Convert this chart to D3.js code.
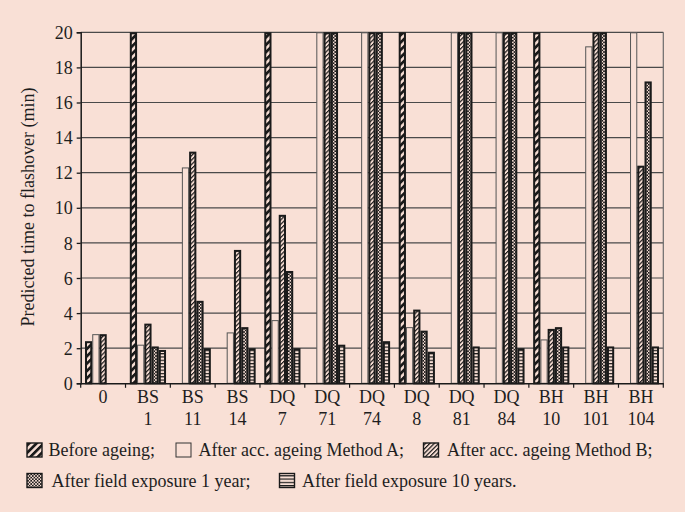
<!DOCTYPE html>
<html>
<head>
<meta charset="utf-8">
<script src="https://cdn.jsdelivr.net/npm/d3@7"></script>
<style>
  html, body { margin: 0; padding: 0; background: #f9e0d6; }
  svg { display: block; }
  text { font-family: "Liberation Serif", "Times New Roman", serif; fill: #1e1e1e; }
</style>
</head>
<body>
<svg id="chart" width="685" height="512"></svg>
<script>
// ---- data ----
const categories = [["0"], ["BS","1"], ["BS","11"], ["BS","14"], ["DQ","7"], ["DQ","71"], ["DQ","74"], ["DQ","8"], ["DQ","81"], ["DQ","84"], ["BH","10"], ["BH","101"], ["BH","104"]];
const seriesNames = ["Before ageing;", "After acc. ageing Method A;", "After acc. ageing Method B;", "After field exposure 1 year;", "After field exposure 10 years."];
const beforeAgeing = [2.4, 20, null, null, 20, null, null, 20, null, null, 20, null, null];
const methodA      = [2.8, 2.2, 12.3, 2.9, 3.6, 20, 20, 3.2, 20, 20, 2.5, 19.2, 20];
const methodB      = [2.8, 3.4, 13.2, 7.6, 9.6, 20, 20, 4.2, 20, 20, 3.1, 20, 12.4];
const field1yr     = [null, 2.1, 4.7, 3.2, 6.4, 20, 20, 3.0, 20, 20, 3.2, 20, 17.2];
const field10yr    = [null, 1.9, 2.0, 2.0, 2.0, 2.2, 2.4, 1.8, 2.1, 2.0, 2.1, 2.1, 2.1];
const yTicks = [0, 2, 4, 6, 8, 10, 12, 14, 16, 18, 20];
const yLabel = "Predicted time to flashover (min)";

const seriesValues = [beforeAgeing, methodA, methodB, field1yr, field10yr];
const patternIds = ["pBefore", "pA", "pB", "pF1", "pF10"];

const BG = "#f9e0d6";
const INK = "#1a1a1a";

const svg = d3.select("#chart");
svg.append("rect").attr("width", 685).attr("height", 512).attr("fill", BG);

// ---- patterns ----
const defs = svg.append("defs");
function stripes(id, period, w, angle) {
  const p = defs.append("pattern").attr("id", id).attr("patternUnits", "userSpaceOnUse")
    .attr("width", period).attr("height", period).attr("patternTransform", `rotate(${angle})`);
  p.append("rect").attr("width", period).attr("height", period).attr("fill", BG);
  p.append("rect").attr("x", 0).attr("y", 0).attr("width", w).attr("height", period).attr("fill", INK);
}
stripes("pBefore", 5.2, 2.7, 45);
stripes("pB", 3.1, 1.2, 45);
// horizontal lines
{
  const p = defs.append("pattern").attr("id", "pF10").attr("patternUnits", "userSpaceOnUse")
    .attr("width", 4).attr("height", 3.3);
  p.append("rect").attr("width", 4).attr("height", 3.3).attr("fill", BG);
  p.append("rect").attr("y", 0).attr("width", 4).attr("height", 1.2).attr("fill", INK);
}
// checker (dense crosshatch with light dots)
{
  const p = defs.append("pattern").attr("id", "pF1").attr("patternUnits", "userSpaceOnUse")
    .attr("width", 3.2).attr("height", 3.2);
  p.append("rect").attr("width", 3.2).attr("height", 3.2).attr("fill", INK);
  p.append("rect").attr("x", 0).attr("y", 0).attr("width", 1.6).attr("height", 1.6).attr("fill", BG);
  p.append("rect").attr("x", 1.6).attr("y", 1.6).attr("width", 1.6).attr("height", 1.6).attr("fill", BG);
}
function fillFor(i) { return i === 1 ? BG : `url(#${patternIds[i]})`; }

// ---- scales ----
const x = d3.scaleBand().domain(d3.range(categories.length)).range([80.7, 663.3]).padding(0);
const xs = d3.scaleBand().domain(d3.range(seriesNames.length)).range([4.3, x.bandwidth() - 4.3]).padding(0);
const y = d3.scaleLinear().domain([0, 20]).range([383.3, 32.3]);

// ---- gridlines ----
const g = svg.append("g");
g.selectAll("line.grid").data(yTicks.filter(t => t > 0)).enter().append("line")
  .attr("x1", 80.7).attr("x2", 663.3).attr("y1", d => y(d)).attr("y2", d => y(d))
  .attr("stroke", "#4a4a4a").attr("stroke-width", 1.2);
// right border
g.append("line").attr("x1", 663.3).attr("x2", 663.3).attr("y1", y(20)).attr("y2", y(0))
  .attr("stroke", "#6a6a6a").attr("stroke-width", 1.2);

// ---- bars ----
seriesValues.forEach((vals, si) => {
  const isA = si === 1;
  svg.append("g").selectAll("rect").data(vals.map((v, ci) => ({v, ci})).filter(d => d.v != null))
    .enter().append("rect")
    .attr("x", d => x(d.ci) + xs(si) + (isA ? 0.5 : 1))
    .attr("width", xs.bandwidth() - (isA ? 1 : 2))
    .attr("y", d => y(d.v) + (isA ? 0.5 : 1))
    .attr("height", d => Math.max(0, y(0) - y(d.v) - (isA ? 0.5 : 1)))
    .attr("fill", fillFor(si))
    .attr("stroke", isA ? "#555" : INK)
    .attr("stroke-width", isA ? 1 : 2);
});

// ---- axes ----
const yAxis = d3.axisLeft(y).tickValues(yTicks).tickSize(4).tickPadding(4).tickFormat(d3.format("d"));
const ya = svg.append("g").attr("transform", "translate(80.7,0)").call(yAxis);
ya.select(".domain").attr("stroke", INK).attr("stroke-width", 1.5);
ya.selectAll(".tick line").attr("stroke", INK).attr("stroke-width", 1.3);
ya.selectAll(".tick text").attr("font-size", 18).attr("font-family", "Liberation Serif").attr("fill", "#1e1e1e").attr("dy", "0.34em");

const xAxis = d3.axisBottom(x).tickSize(0).tickFormat("");
const xa = svg.append("g").attr("transform", `translate(0,${y(0)})`).call(xAxis);
xa.select(".domain").attr("stroke", INK).attr("stroke-width", 1.5);
// boundary ticks
svg.append("g").selectAll("line").data(d3.range(categories.length + 1)).enter().append("line")
  .attr("x1", i => i < categories.length ? x(i) : x.range()[1])
  .attr("x2", i => i < categories.length ? x(i) : x.range()[1])
  .attr("y1", y(0)).attr("y2", y(0) + 4.5)
  .attr("stroke", INK).attr("stroke-width", 1.2);

// category labels (two lines)
const lab = svg.append("g").selectAll("text").data(categories.map((c, i) => ({c, i}))).enter().append("text")
  .attr("text-anchor", "middle").attr("font-size", 18)
  .attr("x", d => x(d.i) + x.bandwidth() / 2);
lab.each(function(d) {
  const t = d3.select(this);
  d.c.forEach((line, k) => {
    t.append("tspan").attr("x", x(d.i) + x.bandwidth() / 2).attr("y", k === 0 ? 403 : 424.5).text(line);
  });
});

// y label
svg.append("text").attr("transform", "translate(34,207) rotate(-90)")
  .attr("text-anchor", "middle").attr("font-size", 18).text(yLabel);

// ---- legend ----
const legendItems = [
  {si: 0, sx: 27, tx: 48.5, row: 0},
  {si: 1, sx: 176, tx: 198.5, row: 0},
  {si: 2, sx: 423.5, tx: 447, row: 0},
  {si: 3, sx: 27, tx: 51.5, row: 1},
  {si: 4, sx: 279.5, tx: 302, row: 1}
];
const rowBase = [456, 486.5];
const lg = svg.append("g");
legendItems.forEach(it => {
  const isA = it.si === 1;
  const top = rowBase[it.row] - 13;
  lg.append("rect").attr("x", it.sx).attr("y", top).attr("width", 15).attr("height", 14)
    .attr("fill", fillFor(it.si)).attr("stroke", isA ? "#333" : INK).attr("stroke-width", isA ? 1 : 1.4);
  lg.append("text").attr("x", it.tx).attr("y", rowBase[it.row]).attr("font-size", 18).text(seriesNames[it.si]);
});
</script>
</body>
</html>
